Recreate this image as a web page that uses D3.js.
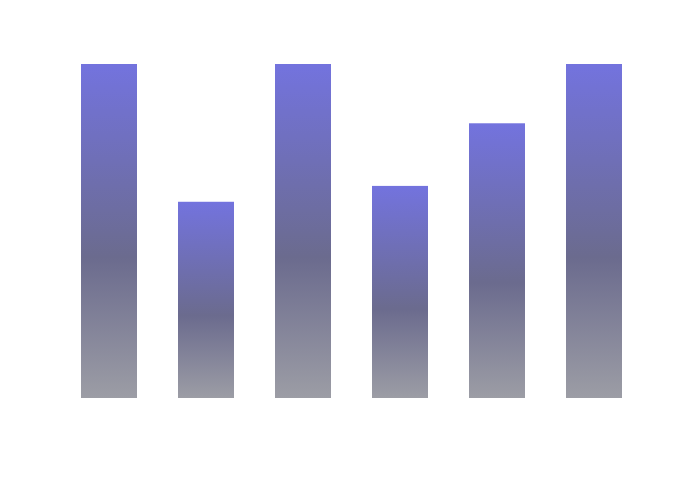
<!DOCTYPE html>
<html>
<head>
<meta charset="utf-8">
<script src="https://d3js.org/d3.v7.min.js"></script>
<style>
  body { margin: 0; background: #fff; }
</style>
</head>
<body>
<div id="chart"></div>
<script>
  var categories = ["A", "B", "C", "D", "E", "F"];
  var values = [20, 11.75, 20, 12.7, 16.45, 20];

  var width = 700, height = 480;

  var svg = d3.select("#chart").append("svg")
      .attr("width", width)
      .attr("height", height);

  var x = d3.scaleBand()
      .domain(categories)
      .range([60, 643])
      .paddingInner(41 / 97)
      .paddingOuter(21 / 97);

  var y = d3.scaleLinear()
      .domain([0, 20])
      .range([398, 64]);

  // one gradient per bar, stretched over its own box
  var defs = svg.append("defs");
  var grad = defs.append("linearGradient")
      .attr("id", "barGrad")
      .attr("x1", 0).attr("y1", 0)
      .attr("x2", 0).attr("y2", 1);
  grad.append("stop").attr("offset", "0%").attr("stop-color", "#7373de");
  grad.append("stop").attr("offset", "58%").attr("stop-color", "#6b6b8e");
  grad.append("stop").attr("offset", "100%").attr("stop-color", "#9c9da5");

  svg.append("g")
    .selectAll("rect")
    .data(values)
    .enter().append("rect")
      .attr("x", function(d, i) { return x(categories[i]); })
      .attr("width", x.bandwidth())
      .attr("y", function(d) { return y(d); })
      .attr("height", function(d) { return y(0) - y(d); })
      .attr("fill", "url(#barGrad)");
</script>
</body>
</html>
